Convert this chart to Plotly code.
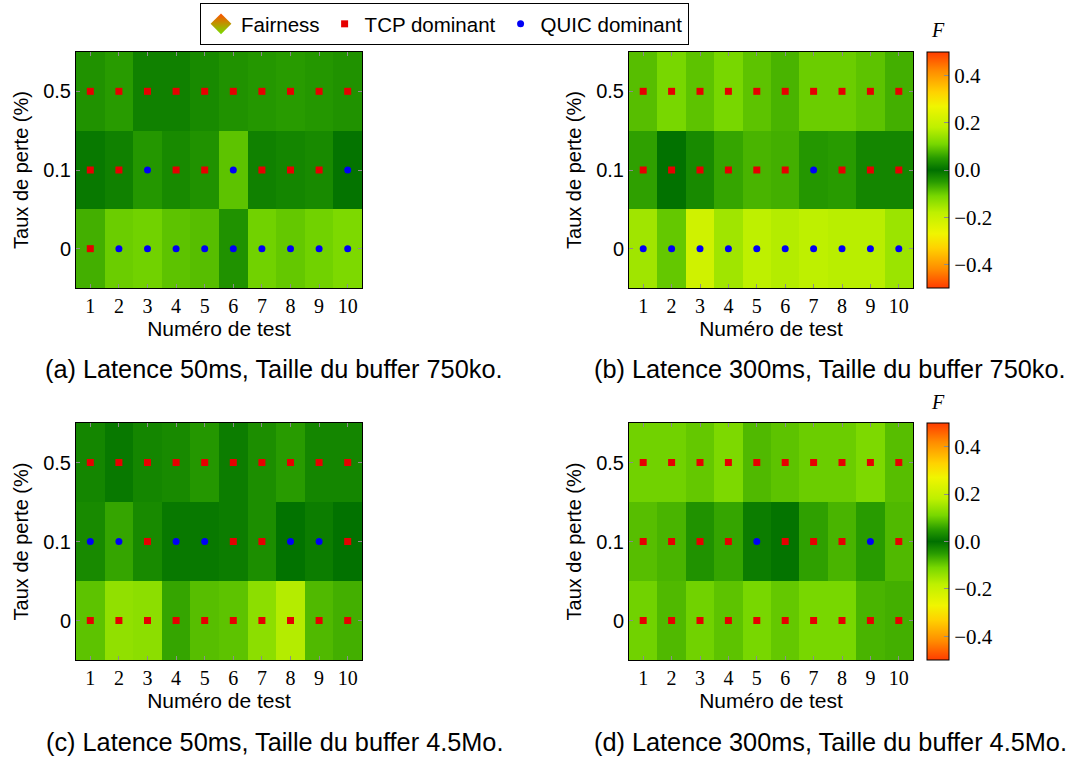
import plotly.graph_objects as go

W, H = 1083, 758

# Test indices and loss-rate categories
tests = [1, 2, 3, 4, 5, 6, 7, 8, 9, 10]
loss_labels = ["0", "0.1", "0.5"]

# Fairness index F per loss rate (rows: 0 %, 0.1 %, 0.5 %); sign > 0 -> TCP dominant, < 0 -> QUIC dominant
fair_50ms_750ko = [
    [0.07, -0.10, -0.105, -0.09, -0.085, -0.04, -0.105, -0.095, -0.105, -0.115],
    [0.01, 0.02, -0.045, 0.03, 0.04, -0.09, 0.02, 0.025, 0.03, -0.005],
    [0.04, 0.05, 0.02, 0.02, 0.03, 0.04, 0.045, 0.05, 0.045, 0.04],
]
fair_300ms_750ko = [
    [-0.15, -0.095, -0.21, -0.15, -0.18, -0.17, -0.18, -0.175, -0.175, -0.145],
    [0.055, 0.002, 0.03, 0.06, 0.075, 0.07, -0.045, 0.05, 0.025, 0.025],
    [0.085, 0.11, 0.09, 0.11, 0.09, 0.075, 0.10, 0.10, 0.09, 0.07],
]
fair_50ms_45mo = [
    [0.09, 0.135, 0.13, 0.06, 0.085, 0.09, 0.13, 0.17, 0.08, 0.07],
    [-0.03, -0.06, 0.03, -0.01, -0.01, 0.015, 0.035, -0.003, -0.015, 0.002],
    [0.025, 0.01, 0.025, 0.03, 0.045, 0.015, 0.035, 0.05, 0.025, 0.025],
]
fair_300ms_45mo = [
    [0.105, 0.08, 0.105, 0.09, 0.11, 0.095, 0.11, 0.11, 0.075, 0.07],
    [0.085, 0.075, 0.04, 0.06, -0.015, 0.005, 0.055, 0.075, -0.05, 0.08],
    [0.105, 0.105, 0.095, 0.115, 0.08, 0.09, 0.10, 0.10, 0.115, 0.085],
]

captions = [
    "(a) Latence 50ms, Taille du buffer 750ko.",
    "(b) Latence 300ms, Taille du buffer 750ko.",
    "(c) Latence 50ms, Taille du buffer 4.5Mo.",
    "(d) Latence 300ms, Taille du buffer 4.5Mo.",
]

# Red - yellow - green - yellow - red map centred on F = 0
fair_scale = [
    [0.00, "rgb(255,60,0)"],
    [0.08, "rgb(255,140,0)"],
    [0.17, "rgb(255,210,0)"],
    [0.23, "rgb(240,245,0)"],
    [0.32, "rgb(190,240,0)"],
    [0.39, "rgb(120,215,0)"],
    [0.45, "rgb(40,155,0)"],
    [0.50, "rgb(0,112,0)"],
    [0.55, "rgb(40,155,0)"],
    [0.61, "rgb(120,215,0)"],
    [0.68, "rgb(190,240,0)"],
    [0.77, "rgb(240,245,0)"],
    [0.83, "rgb(255,210,0)"],
    [0.92, "rgb(255,140,0)"],
    [1.00, "rgb(255,60,0)"],
]

SANS = "Liberation Sans, Arial, sans-serif"
SERIF = "Liberation Serif, Times New Roman, serif"
RED = "rgb(230,0,0)"
BLUE = "rgb(0,0,245)"

# Panel plot-area boxes in pixels: (left, right, top, bottom)
panels = [
    (fair_50ms_750ko, (76, 362, 52, 288), "coloraxis"),
    (fair_300ms_750ko, (629, 913, 52, 288), "coloraxis"),
    (fair_50ms_45mo, (76, 362, 423, 660), "coloraxis2"),
    (fair_300ms_45mo, (629, 913, 423, 660), "coloraxis2"),
]
caption_pos = [(274, 369), (830, 369), (274, 742), (830, 742)]

fig = go.Figure()
layout = {}
ypos = list(range(len(loss_labels)))

for i, (vals, (l, r, t, b), cax) in enumerate(panels):
    n = "" if i == 0 else str(i + 1)
    xa, ya = "x" + n, "y" + n
    fig.add_trace(go.Heatmap(
        z=vals, x=tests, y=ypos, coloraxis=cax, xaxis=xa, yaxis=ya,
        hovertemplate="test %{x}<br>F = %{z}<extra></extra>",
    ))
    tx, ty, qx, qy = [], [], [], []
    for yi, row in enumerate(vals):
        for xi, v in enumerate(row):
            if v >= 0:
                tx.append(tests[xi]); ty.append(ypos[yi])
            else:
                qx.append(tests[xi]); qy.append(ypos[yi])
    fig.add_trace(go.Scatter(
        x=tx, y=ty, mode="markers", xaxis=xa, yaxis=ya, showlegend=False,
        marker=dict(symbol="square", size=7, color=RED), hoverinfo="skip"))
    fig.add_trace(go.Scatter(
        x=qx, y=qy, mode="markers", xaxis=xa, yaxis=ya, showlegend=False,
        marker=dict(symbol="circle", size=7, color=BLUE), hoverinfo="skip"))

    common = dict(showline=True, linecolor="black", linewidth=1, mirror="ticks",
                  ticks="inside", ticklen=4, tickcolor="rgb(140,140,140)",
                  showgrid=False, zeroline=False)
    layout["xaxis" + n] = dict(
        domain=[l / W, r / W], anchor=ya, range=[0.5, 10.5],
        tickvals=tests, ticktext=[str(v) for v in tests],
        tickfont=dict(family=SERIF, size=20, color="black"),
        title=dict(text="Numéro de test", font=dict(family=SANS, size=21, color="black"), standoff=2),
        **common)
    layout["yaxis" + n] = dict(
        domain=[1 - b / H, 1 - t / H], anchor=xa, range=[-0.5, 2.5],
        tickvals=ypos, ticktext=loss_labels,
        tickfont=dict(family=SANS, size=20, color="black"),
        title=dict(text="Taux de perte (%)", font=dict(family=SANS, size=20, color="black"), standoff=9),
        **common)

# Legend entries
fig.add_trace(go.Scatter(
    x=[None], y=[None], mode="markers", name="Fairness",
    marker=dict(symbol="diamond", size=22, color="rgb(255,80,0)",
                gradient=dict(type="vertical", color="rgb(120,220,0)"))))
fig.add_trace(go.Scatter(
    x=[None], y=[None], mode="markers", name="TCP dominant",
    marker=dict(symbol="square", size=7, color=RED)))
fig.add_trace(go.Scatter(
    x=[None], y=[None], mode="markers", name="QUIC dominant",
    marker=dict(symbol="circle", size=7, color=BLUE)))

def cbar(top, bottom):
    return dict(
        x=927 / W, xanchor="left", xpad=0, thickness=22, thicknessmode="pixels",
        y=1 - top / H, yanchor="top", ypad=0, len=(bottom - top) / H, lenmode="fraction",
        outlinecolor="black", outlinewidth=1,
        tickvals=[-0.4, -0.2, 0.0, 0.2, 0.4],
        ticktext=["\u22120.4", "\u22120.2", "0.0", "0.2", "0.4"],
        ticks="inside", ticklen=5, tickcolor="rgb(140,140,140)",
        tickfont=dict(family=SERIF, size=21, color="black"),
    )

annotations = [
    dict(text=c, x=px / W, y=1 - py / H, xref="paper", yref="paper",
         xanchor="center", yanchor="middle", showarrow=False,
         font=dict(family=SANS, size=25.3, color="black"))
    for c, (px, py) in zip(captions, caption_pos)
]
# Colour-bar titles
for cy in (30, 402):
    annotations.append(dict(text="<i>F</i>", x=938 / W, y=1 - cy / H, xref="paper", yref="paper",
                            xanchor="center", yanchor="middle", showarrow=False,
                            font=dict(family=SERIF, size=20, color="black")))

fig.update_layout(
    width=W, height=H, margin=dict(l=0, r=0, t=0, b=0),
    paper_bgcolor="white", plot_bgcolor="white",
    coloraxis=dict(colorscale=fair_scale, cmin=-0.5, cmax=0.5, colorbar=cbar(52, 288)),
    coloraxis2=dict(colorscale=fair_scale, cmin=-0.5, cmax=0.5, colorbar=cbar(423, 660)),
    legend=dict(orientation="h", x=200 / W, xanchor="left", y=1 - 3 / H, yanchor="top",
                bordercolor="black", borderwidth=1, bgcolor="white",
                font=dict(family=SANS, size=20.5, color="black"), itemwidth=30),
    annotations=annotations,
    **layout,
)

fig.write_html("out.html")
